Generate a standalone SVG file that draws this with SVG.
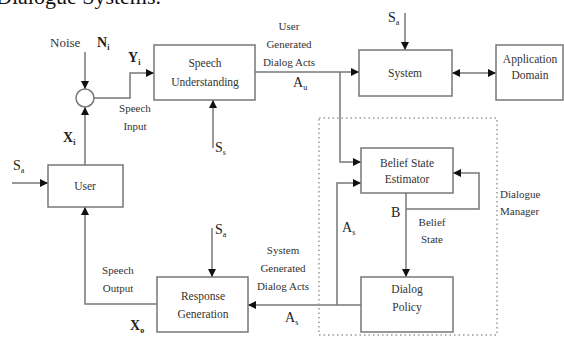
<svg xmlns="http://www.w3.org/2000/svg" width="564" height="337" viewBox="0 0 564 337">
<style>
.box{fill:#fff;stroke:#777;stroke-width:1.5}
.ln{fill:none;stroke:#777;stroke-width:1.5}
.dash{fill:none;stroke:#999;stroke-width:1.5;stroke-dasharray:1.5 3}
text{font-family:"Liberation Serif","Times New Roman",serif;fill:#333}
.bx{font-size:11.5px;text-anchor:middle}
.lb{font-size:11px;text-anchor:middle}
.sym{font-size:14px;fill:#222}
.b{font-weight:bold}
.sub{font-size:8px}
</style>
<defs>
<marker id="ah" viewBox="0 0 10 10" refX="10" refY="5" markerWidth="10" markerHeight="8" markerUnits="userSpaceOnUse" orient="auto-start-reverse">
<path d="M0,0 L10,5 L0,10 z" fill="#111"/>
</marker>
</defs>
<text x="-4" y="4" style="font-size:22px;fill:#111">Dialogue Systems.</text>

<g id="connectors">
<path class="ln" d="M85,52 V89" marker-end="url(#ah)"/>
<path class="ln" d="M85,165 V107" marker-end="url(#ah)"/>
<path class="ln" d="M94,98 H130 V73 H154" marker-end="url(#ah)"/>
<path class="ln" d="M213,148 V100" marker-end="url(#ah)"/>
<path class="ln" d="M12,183 H48" marker-end="url(#ah)"/>
<path class="ln" d="M157,304 H85 V207" marker-end="url(#ah)"/>
<path class="ln" d="M212,228 V277" marker-end="url(#ah)"/>
<path class="ln" d="M361,305 H248" marker-end="url(#ah)"/>
<path class="ln" d="M337,305 V183 H361" marker-end="url(#ah)"/>
<path class="ln" d="M406,193 V277" marker-end="url(#ah)"/>
<path class="ln" d="M406,209 H479 V173 H453" marker-end="url(#ah)"/>
<path class="ln" d="M405,13 V50" marker-end="url(#ah)"/>
<path class="ln" d="M255,72 H359" marker-end="url(#ah)"/>
<path class="ln" d="M340,72 V162 H361" marker-end="url(#ah)"/>
<path class="ln" d="M452,73 H496" marker-start="url(#ah)" marker-end="url(#ah)"/>
</g>

<g id="dialogue-manager">
<rect class="dash" x="319" y="118" width="178" height="217"/>
<text x="500" y="198" style="font-size:11px">Dialogue</text>
<text x="500" y="215" style="font-size:11px">Manager</text>
</g>

<g id="noise-sum">
<circle cx="85" cy="98" r="9" fill="#fff" stroke="#777" stroke-width="1.5"/>
</g>

<g id="speech-understanding">
<rect class="box" x="154" y="45" width="101" height="55"/>
<text class="bx" x="205" y="67">Speech</text>
<text class="bx" x="205" y="86">Understanding</text>
</g>

<g id="user">
<rect class="box" x="48" y="165" width="75" height="42"/>
<text class="bx" x="85" y="190">User</text>
</g>

<g id="response-generation">
<rect class="box" x="157" y="277" width="91" height="55"/>
<text class="bx" x="203" y="300">Response</text>
<text class="bx" x="203" y="318">Generation</text>
</g>

<g id="dialog-policy">
<rect class="box" x="361" y="277" width="92" height="55"/>
<text class="bx" x="407" y="293">Dialog</text>
<text class="bx" x="407" y="311">Policy</text>
</g>

<g id="belief-state-estimator">
<rect class="box" x="361" y="148" width="92" height="45"/>
<text class="bx" x="407" y="167">Belief State</text>
<text class="bx" x="407" y="183">Estimator</text>
</g>

<g id="system">
<rect class="box" x="359" y="50" width="93" height="46"/>
<text class="bx" x="405" y="77">System</text>
</g>

<g id="application-domain">
<rect class="box" x="496" y="45" width="67" height="55"/>
<text class="bx" x="530" y="63">Application</text>
<text class="bx" x="530" y="79">Domain</text>
</g>

<g id="labels">
<text x="50" y="47" style="font-size:13px">Noise</text>
<text x="97" y="47" class="sym b">N<tspan class="sub" dy="3">i</tspan></text>
<text x="128" y="62" class="sym b">Y<tspan class="sub" dy="3">i</tspan></text>
<text class="lb" x="135" y="112">Speech</text>
<text class="lb" x="135" y="130">Input</text>
<text x="63" y="142" class="sym b">X<tspan class="sub" dy="3">i</tspan></text>
<text x="215" y="152" class="sym">S<tspan class="sub" dy="3">s</tspan></text>
<text x="13" y="170" class="sym">S<tspan class="sub" dy="3">a</tspan></text>
<text class="lb" x="118" y="274">Speech</text>
<text class="lb" x="118" y="292">Output</text>
<text x="130" y="330" class="sym b">X<tspan class="sub" dy="3">o</tspan></text>
<text x="215" y="234" class="sym">S<tspan class="sub" dy="3">a</tspan></text>
<text class="lb" x="283" y="254">System</text>
<text class="lb" x="283" y="272">Generated</text>
<text class="lb" x="283" y="290">Dialog Acts</text>
<text x="285" y="322" class="sym">A<tspan class="sub" dy="3">s</tspan></text>
<text x="342" y="232" class="sym">A<tspan class="sub" dy="3">s</tspan></text>
<text x="391" y="217" class="sym">B</text>
<text class="lb" x="432" y="226">Belief</text>
<text class="lb" x="432" y="243">State</text>
<text class="lb" x="289" y="30">User</text>
<text class="lb" x="289" y="48">Generated</text>
<text class="lb" x="289" y="66">Dialog Acts</text>
<text x="293" y="87" class="sym">A<tspan class="sub" dy="3">u</tspan></text>
<text x="388" y="22" class="sym">S<tspan class="sub" dy="3">a</tspan></text>
</g>
</svg>
